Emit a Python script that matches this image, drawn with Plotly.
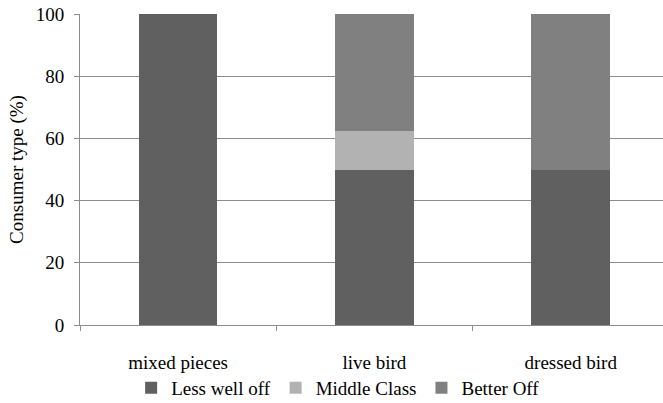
import plotly.graph_objects as go

categories = ["mixed pieces", "live bird", "dressed bird"]
less_well_off = [100, 50, 50]
middle_class = [0, 12.5, 0]
better_off = [0, 37.5, 50]
y_ticks = [0, 20, 40, 60, 80, 100]

FAM = "Liberation Serif, Times New Roman, serif"
FS = 19

fig = go.Figure()
fig.add_bar(x=categories, y=less_well_off, name="Less well off", marker_color="#606060", marker_line_width=0)
fig.add_bar(x=categories, y=middle_class, name="Middle Class", marker_color="#b2b2b2", marker_line_width=0)
fig.add_bar(x=categories, y=better_off, name="Better Off", marker_color="#808080", marker_line_width=0)

fig.update_layout(
    barmode="stack",
    bargap=0.6,
    width=663, height=403,
    margin=dict(l=80, r=0, t=14, b=78, autoexpand=False),
    paper_bgcolor="white", plot_bgcolor="white",
    font=dict(family=FAM, size=FS, color="#000000"),
    showlegend=True,
    legend=dict(orientation="h", xref="container", yref="container", x=0.51, xanchor="center",
                y=15 / 403, yanchor="middle", font=dict(family=FAM, size=FS, color="#000000"),
                bgcolor="rgba(0,0,0,0)", itemwidth=30, traceorder="normal"),
)
fig.update_xaxes(
    range=[-0.5, 2.47], type="category",
    showline=True, linecolor="#8c8c8c", linewidth=1,
    ticks="outside", tickson="boundaries", ticklen=5, tickcolor="#8c8c8c",
    ticklabelstandoff=20, showgrid=False, tickfont=dict(family=FAM, size=FS, color="#000000"),
)
fig.update_yaxes(
    range=[0, 100], tickvals=y_ticks,
    showline=True, linecolor="#8c8c8c", linewidth=1,
    ticks="outside", ticklen=5, tickcolor="#8c8c8c",
    showgrid=True, gridcolor="#8c8c8c", gridwidth=1,
    zeroline=False, tickfont=dict(family=FAM, size=FS, color="#000000"), ticklabelstandoff=6,
    title=dict(text="Consumer type (%)", font=dict(family=FAM, size=FS, color="#000000"), standoff=7),
)

fig.write_html("out.html", config={"displayModeBar": False},
               post_script="document.body.style.margin='0';document.body.style.padding='0';")
